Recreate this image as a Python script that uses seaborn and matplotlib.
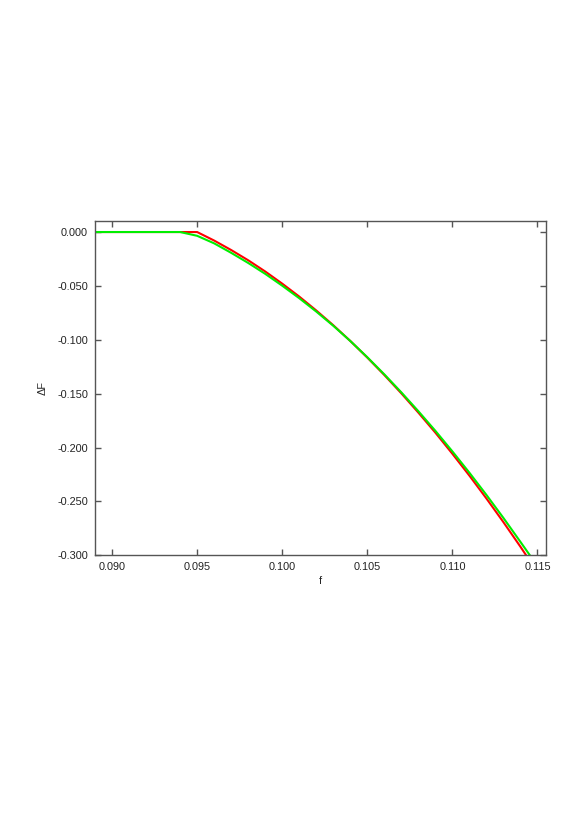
import numpy as np
import pandas as pd
import matplotlib
matplotlib.use('Agg')
import matplotlib.pyplot as plt
import seaborn as sns
from matplotlib.ticker import FormatStrFormatter, MultipleLocator


# values
f_red = [0.089, 0.090, 0.091, 0.092, 0.093, 0.094, 0.095, 0.096, 0.097, 0.098,
         0.099, 0.100, 0.101, 0.102, 0.103, 0.104, 0.105, 0.106, 0.107, 0.108,
         0.109, 0.110, 0.111, 0.112, 0.113, 0.114, 0.115]
dF_red = [0.0, 0.0, 0.0, 0.0, 0.0, 0.0, 0.0, -0.0079, -0.0167, -0.0262,
          -0.0366, -0.0479, -0.0599, -0.0728, -0.0865, -0.1011, -0.1165, -0.1327, -0.1497, -0.1676,
          -0.1862, -0.2058, -0.2261, -0.2473, -0.2693, -0.2921, -0.3158]

f_green = [0.089, 0.090, 0.091, 0.092, 0.093, 0.094, 0.095, 0.096, 0.097, 0.098,
           0.099, 0.100, 0.101, 0.102, 0.103, 0.104, 0.105, 0.106, 0.107, 0.108,
           0.109, 0.110, 0.111, 0.112, 0.113, 0.114, 0.115]
dF_green = [0.0, 0.0, 0.0, 0.0, 0.0, 0.0, -0.0035, -0.0105, -0.0193, -0.0287,
            -0.0388, -0.0498, -0.0614, -0.0738, -0.0870, -0.1011, -0.1162, -0.1321, -0.1488, -0.1663,
            -0.1845, -0.2036, -0.2234, -0.2440, -0.2654, -0.2876, -0.3100]

sns.set_style('ticks')
plt.rcParams['font.family'] = ['Liberation Sans', 'DejaVu Sans']

fig = plt.figure(figsize=(5.79, 8.19), dpi=100)
ax = fig.add_axes([0.1641, 0.322, 0.7789, 0.4085])

red = pd.DataFrame({'f': f_red, 'dF': dF_red})
green = pd.DataFrame({'f': f_green, 'dF': dF_green})

sns.lineplot(data=red, x='f', y='dF', color='#ff0000', linewidth=1.5, ax=ax)
sns.lineplot(data=green, x='f', y='dF', color='#00ee00', linewidth=1.5, ax=ax)

ax.set_xlim(0.089, 0.1155)
ax.set_ylim(-0.300, 0.0105)
ax.xaxis.set_major_locator(MultipleLocator(0.005))
ax.yaxis.set_major_locator(MultipleLocator(0.05))
ax.xaxis.set_major_formatter(FormatStrFormatter('%.3f'))
ax.yaxis.set_major_formatter(FormatStrFormatter('%.3f'))

for s in ax.spines.values():
    s.set_color('#555555')
    s.set_linewidth(1.0)

ax.tick_params(direction='in', length=4, width=1, color='#555555',
               top=True, right=True, labelsize=7.8, labelcolor='#222222', pad=5)

ax.set_xlabel('f', fontsize=7.8, labelpad=3)
ax.set_ylabel('ΔF', fontsize=7.8, labelpad=7)

fig.savefig('out.png', dpi=100)
